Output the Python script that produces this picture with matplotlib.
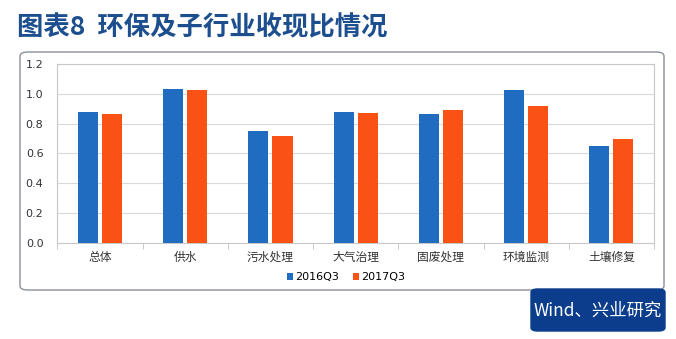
import matplotlib
matplotlib.use("Agg")
import matplotlib.pyplot as plt
from matplotlib.patches import FancyBboxPatch
import numpy as np

plt.rcParams['font.family'] = ['Noto Sans CJK SC', 'DejaVu Sans']

categories = ["总体", "供水", "污水处理", "大气治理", "固废处理", "环境监测", "土壤修复"]
series_names = ["2016Q3", "2017Q3"]
values_2016 = [0.88, 1.032, 0.75, 0.88, 0.864, 1.028, 0.651]
values_2017 = [0.864, 1.028, 0.717, 0.873, 0.893, 0.918, 0.694]
yticks = [0.0, 0.2, 0.4, 0.6, 0.8, 1.0, 1.2]

blue = "#1f6cc0"
orange = "#fa5114"
W, H = 676, 339

fig = plt.figure(figsize=(W / 100, H / 100), dpi=100)
fig.patch.set_facecolor("white")

def fx(px):
    return px / W

def fy(py):
    return 1 - py / H

# outer rounded frame
frame = FancyBboxPatch((fx(20), fy(290)), fx(664) - fx(20), fy(52) - fy(290),
                       boxstyle="round,pad=0,rounding_size=0.012",
                       transform=fig.transFigure, facecolor="white",
                       edgecolor="#8a9099", linewidth=1.0, zorder=-5)
fig.patches.append(frame)

# source box
src = FancyBboxPatch((fx(531), fy(331)), fx(665) - fx(531), fy(289) - fy(331),
                     boxstyle="round,pad=0,rounding_size=0.01",
                     transform=fig.transFigure, facecolor="#0b3d8c",
                     edgecolor="#0b3d8c", linewidth=1.0, zorder=1)
fig.patches.append(src)
fig.text(fx(598), fy(311), "Wind、兴业研究", color="white", fontsize=12.5,
         ha="center", va="center")

# title
fig.text(fx(17), fy(28), "图表8  环保及子行业收现比情况", color="#1d4f8f",
         fontsize=19, fontweight="bold", ha="left", va="center")

ax = fig.add_axes([fx(57.3), fy(242.7), fx(654) - fx(57.3), fy(64) - fy(242.7)])
ax.set_zorder(5)
ax.set_facecolor("white")
x = np.arange(len(categories))
bw = 0.235
off = 0.142
ax.bar(x - off, values_2016, bw, color=blue, label=series_names[0], zorder=3)
ax.bar(x + off, values_2017, bw, color=orange, label=series_names[1], zorder=3)

ax.set_xlim(-0.5, len(categories) - 0.5)
ax.set_ylim(0, 1.2)
ax.set_yticks(yticks)
ax.set_yticklabels([f"{v:.1f}" for v in yticks], fontsize=8, color="#333333",
                   family="DejaVu Sans")
ax.yaxis.grid(True, color="#d9d9d9", linewidth=0.8, zorder=0)
ax.set_axisbelow(True)
ax.tick_params(axis="y", length=0, pad=10)
ax.set_xticks(x)
ax.set_xticklabels(categories, fontsize=8.5, color="#333333")
ax.tick_params(axis="x", which="major", length=0, pad=6)
ax.set_xticks(np.arange(-0.5, len(categories), 1.0), minor=True)
ax.tick_params(axis="x", which="minor", length=4, color="#bfbfbf")
for s in ax.spines.values():
    s.set_color("#c8c8c8")
    s.set_linewidth(0.8)

leg = fig.legend(loc="center", bbox_to_anchor=(fx(346), fy(277)), ncol=2,
                 frameon=False, handlelength=0.6, handleheight=0.6,
                 handletextpad=0.2, columnspacing=1.2,
                 prop={"family": "DejaVu Sans", "size": 8})
leg.set_zorder(6)

fig.savefig("out.png", dpi=100, facecolor="white")
